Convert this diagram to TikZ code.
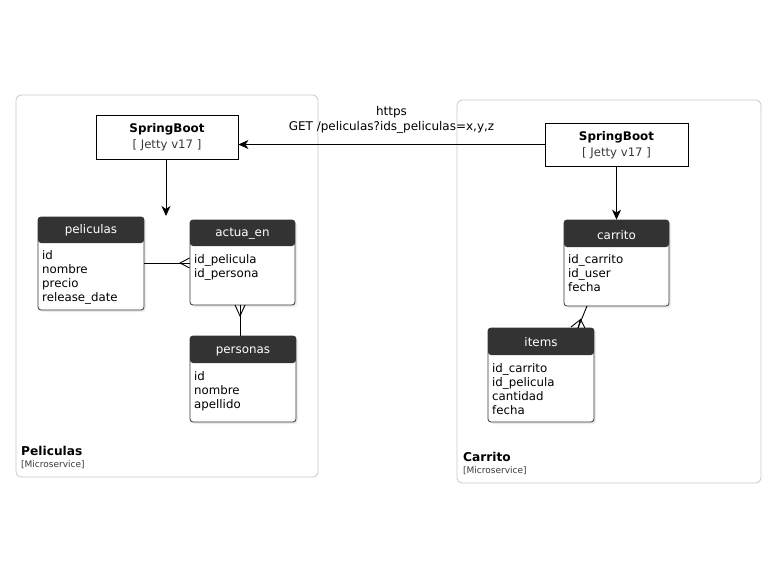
\documentclass[tikz,border=0pt]{standalone}
\usepackage{fontspec}
\setmainfont{DejaVu Sans}
\usetikzlibrary{arrows.meta,shadows,calc}
\definecolor{hdr}{HTML}{333333}
\definecolor{frame}{HTML}{C8C8C8}
\definecolor{sub}{HTML}{3A3A3A}
\tikzset{
  container/.style={draw=frame,line width=0.8pt,rounded corners=5pt},
  svc/.style={draw,line width=0.9pt,fill=white,inner sep=0pt},
  tbl/.style={draw=black!80,line width=0.8pt,rounded corners=3pt,fill=white,inner sep=0pt,
     drop shadow={shadow xshift=2pt,shadow yshift=-2pt,opacity=0.15}},
  hdrtxt/.style={text=white,font=\fontsize{11.9}{13}\selectfont,inner sep=0pt},
  rows/.style={align=left,anchor=north west,font=\fontsize{11.8}{14}\selectfont,inner sep=0pt},
  conn/.style={line width=0.9pt},
  arr/.style={line width=0.9pt,-{Stealth[length=10pt,width=9pt,inset=3pt]}},
}
\newcommand{\hdrfill}[1]{\fill[hdr] (path picture bounding box.north west) rectangle ([yshift=-#1pt]path picture bounding box.north east);}
\begin{document}
\begin{tikzpicture}[x=1pt,y=-1pt]
\useasboundingbox[fill=white] (0,0) rectangle (784,563);
% containers
\node[container,minimum width=302pt,minimum height=382pt] (cpel) at (167,286) {};
\node[container,minimum width=304pt,minimum height=383pt] (ccar) at (609,291.5) {};
\node[anchor=base west,inner sep=0pt,font=\bfseries\fontsize{12.2}{14}\selectfont] (tpel) at (21,455) {Peliculas};
\node[anchor=base west,inner sep=0pt,font=\fontsize{9}{10}\selectfont,text=sub] (mpel) at (21,467.5) {[Microservice]};
\node[anchor=base west,inner sep=0pt,font=\bfseries\fontsize{12.2}{14}\selectfont] (tcar) at (463,461) {Carrito};
\node[anchor=base west,inner sep=0pt,font=\fontsize{9}{10}\selectfont,text=sub] (mcar) at (463,473.5) {[Microservice]};
% springboot services
\node[svc,minimum width=142pt,minimum height=44pt] (sb1) at (167,137) {};
\node[font=\bfseries\fontsize{11.9}{13}\selectfont,inner sep=0pt] (sb1t) at (167,129.5) {SpringBoot};
\node[font=\fontsize{11.7}{12}\selectfont,text=sub,inner sep=0pt] (sb1s) at (167,145) {[ Jetty v17 ]};
\node[svc,minimum width=143pt,minimum height=43pt] (sb2) at (616.5,144.5) {};
\node[font=\bfseries\fontsize{11.9}{13}\selectfont,inner sep=0pt] (sb2t) at (616.5,137.5) {SpringBoot};
\node[font=\fontsize{11.7}{12}\selectfont,text=sub,inner sep=0pt] (sb2s) at (616.5,153) {[ Jetty v17 ]};
% tables
\node[tbl,minimum width=106pt,minimum height=93pt,path picture={\hdrfill{26}}] (pel) at (91,263.5) {};
\node[hdrtxt] at (91,230) {peliculas};
\node[rows] at (42,250.5) {id\\nombre\\precio\\release\_date};

\node[tbl,minimum width=105pt,minimum height=85pt,path picture={\hdrfill{26}}] (act) at (242.5,262.5) {};
\node[hdrtxt] at (242.5,234) {actua\_en};
\node[rows] at (194,254.5) {id\_pelicula\\id\_persona};

\node[tbl,minimum width=106pt,minimum height=86pt,path picture={\hdrfill{27}}] (per) at (243,379) {};
\node[hdrtxt] at (243,351) {personas};
\node[rows] at (194,371.5) {id\\nombre\\apellido};

\node[tbl,minimum width=105pt,minimum height=86pt,path picture={\hdrfill{27}}] (car) at (616.5,263) {};
\node[hdrtxt] at (616.5,235) {carrito};
\node[rows] at (568,254.5) {id\_carrito\\id\_user\\fecha};

\node[tbl,minimum width=106pt,minimum height=94pt,path picture={\hdrfill{27}}] (itm) at (541,375) {};
\node[hdrtxt] at (541,342) {items};
\node[rows] at (492,363.5) {id\_carrito\\id\_pelicula\\cantidad\\fecha};

% arrows
\coordinate (free1) at (166,216);
\draw[arr] (sb1.south -| free1) -- (free1);
\draw[arr] (sb2.west) -- (sb2.west -| sb1.east)
  node[midway,above=11pt,align=center,font=\fontsize{12}{15}\selectfont,inner sep=0pt] (lbl) {https\\GET /peliculas?ids\_peliculas=x,y,z};
\draw[arr] (sb2.south) -- (car.north);

% relations
\draw[conn] (pel.east |- 0,263) -- (act.west |- 0,263);
\draw[conn] (act.west |- 0,258) -- (180,263) -- (act.west |- 0,268);
\draw[conn] (act.south -| 240,0) -- (per.north -| 240,0);
\draw[conn] (235,305) -- (240,316) -- (245,305);
\coordinate (c1) at (587,306);
\coordinate (c2) at (578,328);
\draw[conn] (c1) -- (c2);
\draw[conn] (571,327) -- (580.5,319.5) -- (578,328);
\draw[conn] (580.5,319.5) -- (585,328);
\end{tikzpicture}
\end{document}
